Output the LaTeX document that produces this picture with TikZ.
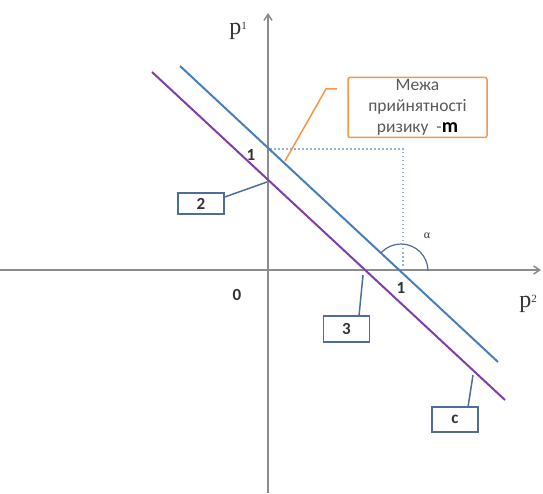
\documentclass[tikz,border=0pt]{standalone}
\usepackage{fontspec}
\setmainfont{Carlito}
\newfontfamily\serifp{Liberation Serif}
\usetikzlibrary{arrows.meta}
\definecolor{axisgray}{HTML}{8C8C8C}
\definecolor{lineblue}{HTML}{4A7EBB}
\definecolor{linepurple}{HTML}{7F3FA8}
\definecolor{calloutorange}{HTML}{F79646}
\definecolor{boxblue}{HTML}{4F6D9A}
\definecolor{dotblue}{HTML}{95B3D7}
\definecolor{txt}{HTML}{333333}
\definecolor{greytxt}{HTML}{595959}
\tikzset{
  axisline/.style={draw=axisgray, line width=1.5pt, -{Straight Barb[length=6pt,width=8pt]}},
  riskline/.style={line width=2pt},
  tagbox/.style={draw=boxblue, line width=1.5pt, fill=white, minimum width=46pt, minimum height=22pt, inner sep=0pt, font=\fontsize{17}{17}\selectfont\bfseries, text=txt},
  tagline/.style={draw=boxblue, line width=1.5pt},
  lbl/.style={font=\fontsize{17}{17}\selectfont\bfseries, text=txt, inner sep=0pt},
}
\begin{document}
\begin{tikzpicture}[x=1pt,y=-1pt]
\useasboundingbox (0,0) rectangle (543,494);
% axes
\coordinate (xs) at (0,270);
\coordinate (xe) at (541,270);
\coordinate (ys) at (268,493);
\coordinate (ye) at (268,13);
\draw[axisline] (xs) -- (xe);
\draw[axisline] (ys) -- (ye);
% dotted guide
\coordinate (d1) at (270,149);
\coordinate (d2) at (403,149);
\coordinate (d3) at (403,268);
\draw[dotblue, line width=1.2pt, dash pattern=on 1.5pt off 2.5pt] (d1) -- (d2) -- (d3);
% lines
\coordinate (b1) at (180,66);
\coordinate (b2) at (498,362);
\coordinate (p1) at (152,72);
\coordinate (p2) at (505,400);
\draw[riskline, lineblue] (b1) -- (b2);
\draw[riskline, linepurple] (p1) -- (p2);
% alpha arc
\coordinate (ac) at (401,271);
\draw[boxblue, line width=1.2pt] (428,271) arc[start angle=0, end angle=137, radius=27pt];
\node[text=txt, font=\serifp\fontsize{12}{12}\selectfont] (alpha) at (427,236) {α};
% axis labels
\node[text=txt, inner sep=0pt, anchor=base] (p1lbl) at (238,35) {\serifp\fontsize{24}{24}\selectfont p\raisebox{5pt}{\fontsize{11}{11}\selectfont 1}};
\node[text=txt, inner sep=0pt, anchor=base] (p2lbl) at (528,307) {\serifp\fontsize{24}{24}\selectfont p\raisebox{5pt}{\fontsize{11}{11}\selectfont 2}};
\node[lbl] (zero) at (237,295) {0};
\node[lbl] (oney) at (251,155) {1};
\node[lbl] (onex) at (401,288) {1};
% callout
\node[draw=calloutorange, line width=1.5pt, rounded corners=2pt, minimum width=139pt, minimum height=60pt, align=center, inner sep=0pt, text=greytxt, font=\fontsize{17.5}{21}\selectfont] (mbox) at (417.5,107.5) {Межа\\прийнятності\\ризику\ \ -{\color{black}\fontsize{20}{21}\selectfont\bfseries m}};
\coordinate (m1) at (337,89);
\coordinate (m2) at (326,89);
\coordinate (m3) at (285,161);
\draw[calloutorange, line width=1.5pt] (m1) -- (m2) -- (m3);
% tag boxes
\node[tagbox, minimum height=21pt] (t2) at (201,203.5) {2};
\node[tagbox, minimum height=26pt] (t3) at (346.5,329) {3};
\node[tagbox, minimum height=25pt] (tc) at (455,419.5) {c};
\coordinate (k2) at (267,182);
\coordinate (k3) at (363,275);
\coordinate (kc) at (473,375);
\draw[tagline] (t2.east |- 0,197) -- (k2);
\draw[tagline] (359,316) -- (k3);
\draw[tagline] (468,407) -- (kc);
\end{tikzpicture}
\end{document}
